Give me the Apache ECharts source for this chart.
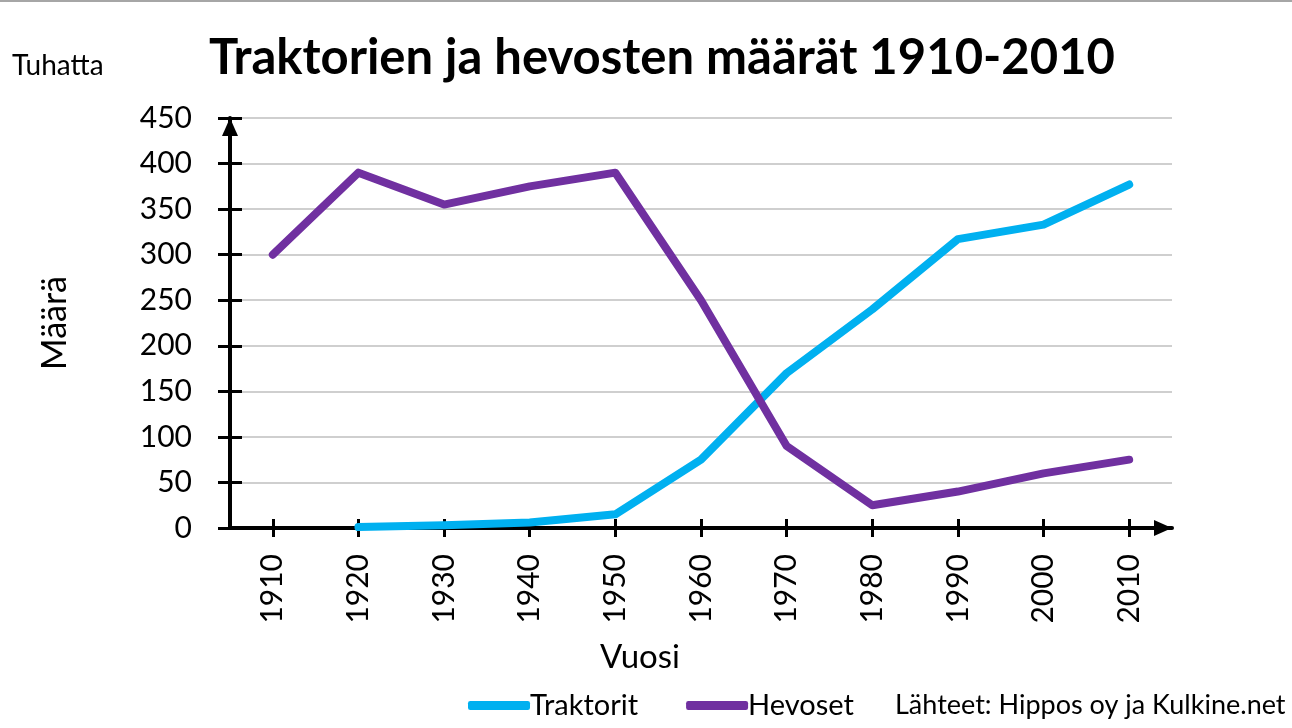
<!DOCTYPE html>
<html><head><meta charset="utf-8">
<script src="https://cdn.jsdelivr.net/npm/echarts@6/dist/echarts.min.js"></script>
<style>html,body{margin:0;padding:0;background:#fff}#c{width:1292px;height:728px}</style>
</head><body><div id="c"></div>
<script>
const years = ['1910','1920','1930','1940','1950','1960','1970','1980','1990','2000','2010'];
const traktorit = [null, 1, 3, 6, 15, 75, 170, 240, 317, 333, 377];
const hevoset = [300, 390, 355, 375, 390, 250, 90, 25, 40, 60, 75];
const yTicks = {min: 0, max: 450, interval: 50};

const FONT = 'Lato';
const chart = echarts.init(document.getElementById('c'));
const grid = {left: 230, right: 120, top: 118, bottom: 200};
chart.setOption({
  animation: false,
  textStyle: {fontFamily: FONT},
  title: {
    text: 'Traktorien ja hevosten määrät 1910-2010',
    left: 657, top: 29, textAlign: 'center',
    textStyle: {fontFamily: FONT, fontWeight: 'bold', fontSize: 49, color: '#000'}
  },
  legend: {
    left: 463, top: 686,
    icon: 'roundRect', itemWidth: 62, itemHeight: 9, itemGap: 48,
    textStyle: {fontFamily: FONT, fontSize: 29, color: '#000', padding: [0,0,0,-5]},
    data: ['Traktorit', 'Hevoset']
  },
  grid: grid,
  xAxis: [{
    type: 'category', data: years, boundaryGap: true, position: 'bottom',
    axisLine: {lineStyle: {color: '#000', width: 4}, symbol: ['none', 'triangle'], symbolSize: [16, 18], symbolOffset: [0, -9]},
    axisTick: {show: true, alignWithLabel: true, length: 9, lineStyle: {color: '#000', width: 3}},
    axisLabel: {rotate: 90, fontSize: 30, color: '#000', margin: 26, fontFamily: FONT},
    splitLine: {show: false}
  }, {
    type: 'category', data: years, boundaryGap: true, position: 'bottom', offset: 0,
    axisLine: {show: false},
    axisTick: {show: true, alignWithLabel: true, inside: true, length: 9, lineStyle: {color: '#000', width: 3}},
    axisLabel: {show: false}
  }],
  yAxis: [{
    type: 'value', min: yTicks.min, max: yTicks.max, interval: yTicks.interval, position: 'left',
    name: 'Määrä', nameLocation: 'middle', nameGap: 158, nameRotate: 90,
    nameTextStyle: {fontSize: 34, color: '#000', fontFamily: FONT},
    axisLine: {show: true, lineStyle: {color: '#000', width: 4}, symbol: ['none', 'triangle'], symbolSize: [16, 18], symbolOffset: [0, -9]},
    axisTick: {show: true, length: 12, lineStyle: {color: '#000', width: 3}},
    axisLabel: {fontSize: 30, color: '#000', margin: 38, fontFamily: FONT},
    splitLine: {show: true, lineStyle: {color: '#bfbfbf', width: 1.5}}
  }, {
    type: 'value', min: yTicks.min, max: yTicks.max, interval: yTicks.interval, position: 'left', offset: 0,
    axisLine: {show: false},
    axisTick: {show: true, inside: true, length: 12, lineStyle: {color: '#000', width: 3}},
    axisLabel: {show: false}, splitLine: {show: false}
  }],
  graphic: [
    {type: 'rect', left: 0, top: 0, shape: {width: 1292, height: 2}, style: {fill: '#a6a6a6'}},
    {type: 'text', left: 12, top: 52, style: {text: 'Tuhatta', font: '28px ' + FONT, fill: '#000'}},
    {type: 'text', x: 640, y: 657, style: {text: 'Vuosi', font: '33px ' + FONT, fill: '#000', align: 'center', verticalAlign: 'middle'}},
    {type: 'text', left: 895, top: 692, style: {text: 'Lähteet: Hippos oy ja Kulkine.net', font: '27px ' + FONT, fill: '#000'}}
  ],
  series: [{
    name: 'Traktorit', type: 'line', data: traktorit, symbol: 'none', connectNulls: false,
    itemStyle: {color: '#00B0F0'},
    lineStyle: {color: '#00B0F0', width: 8, cap: 'round', join: 'round'}
  }, {
    name: 'Hevoset', type: 'line', data: hevoset, symbol: 'none',
    itemStyle: {color: '#7030A0'},
    lineStyle: {color: '#7030A0', width: 8, cap: 'round', join: 'round'}
  }]
});
</script></body></html>
